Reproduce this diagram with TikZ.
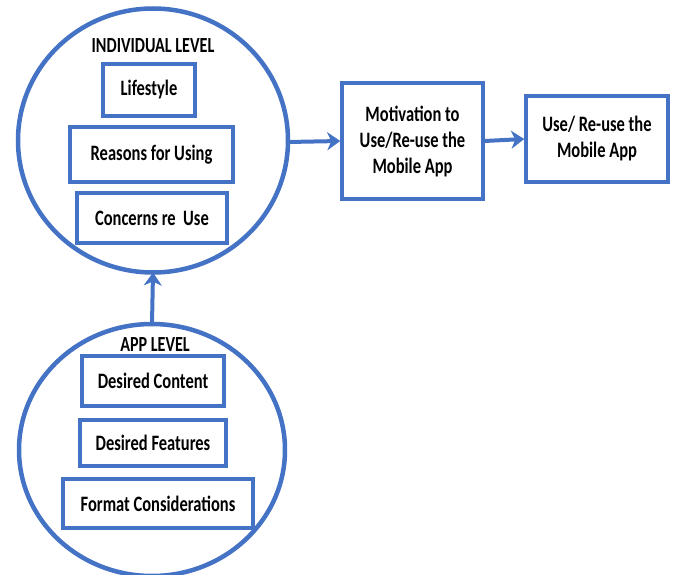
\documentclass[tikz,border=0pt]{standalone}
\usepackage{fontspec}
\setmainfont{Carlito}[FakeStretch=0.75]
\usetikzlibrary{arrows.meta}
\definecolor{appblue}{RGB}{68,114,196}

\begin{document}
\begin{tikzpicture}[x=1pt,y=-1pt,
  inbox/.style={draw=appblue,line width=3.5pt,inner sep=0pt,align=center,
    font=\fontsize{22}{26}\selectfont\bfseries},
  title/.style={font=\fontsize{21.5}{22}\selectfont\bfseries},
  flow/.style={draw=appblue,line width=4pt,-{Stealth[length=13pt,width=18pt,inset=4pt]}}]
\useasboundingbox (0,0) rectangle (675,575);
% individual level
\draw [appblue,line width=4.5pt] (153,140.5) ellipse [x radius=135,y radius=132];
\coordinate (indR) at (288,142);
\coordinate (indB) at (153,272.5);
\node [title] (indT) at (153,46) {INDIVIDUAL LEVEL};
\node [inbox,minimum width=92,minimum height=52] (life) at (149,90) {Lifestyle};
\node [inbox,minimum width=163,minimum height=55] (reas) at (151.5,154.5) {Reasons for Using};
\node [inbox,minimum width=150,minimum height=50] (conc) at (152,218) {Concerns re\ \ Use};
% app level
\draw [appblue,line width=4.5pt] (152,450) ellipse [x radius=133,y radius=126];
\coordinate (appT) at (152,324);
\node [title] (appL) at (155,345) {APP LEVEL};
\node [inbox,minimum width=142,minimum height=50] (cont) at (153,381) {Desired Content};
\node [inbox,minimum width=146,minimum height=46] (feat) at (153,443) {Desired Features};
\node [inbox,minimum width=190,minimum height=49] (form) at (158,503.5) {Format Considerations};
% outcome boxes
\node [inbox,minimum width=141,minimum height=116] (motiv) at (412.5,141) {Motivation to\\Use/Re-use the\\Mobile App};
\node [inbox,minimum width=142,minimum height=86] (use) at (597,139) {Use/ Re-use the\\Mobile App};
\draw [flow] (appT) to (indB);
\draw [flow] (indR) to (motiv.west);
\draw [flow] (motiv.east) to (use.west);
\end{tikzpicture}
\end{document}
